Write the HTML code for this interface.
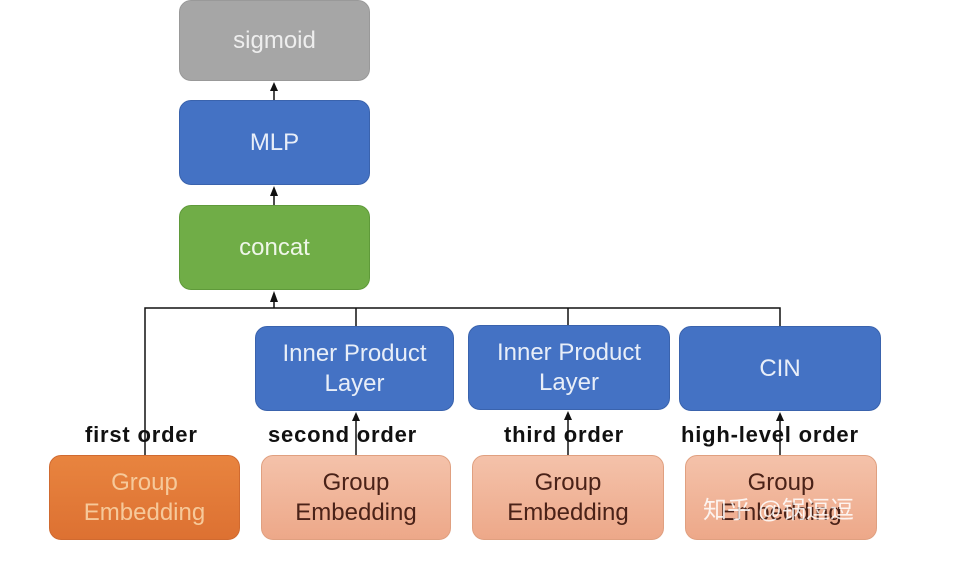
<!DOCTYPE html>
<html><head><meta charset="utf-8"><style>
body{margin:0;width:954px;height:570px;background:#fff;overflow:hidden;position:relative;font-family:"Liberation Sans","Noto Sans CJK SC",sans-serif}
.b{position:absolute;border-radius:12px;display:flex;align-items:center;justify-content:center;text-align:center;font-size:24px;line-height:30px;box-sizing:border-box}
.blue{background:#4472c4;color:#e8eef8;border:1px solid #3a63ad}
.pe{background:linear-gradient(#f4c2aa,#eda889);color:#4a2218;border:1px solid #e0a080}
.l{position:absolute;font-weight:bold;font-size:22px;letter-spacing:0.8px;color:#111;top:422px;white-space:nowrap}
</style></head><body>
<div class="b" style="left:179px;top:0;width:191px;height:81px;background:#a6a6a6;color:#eee;border:1px solid #999">sigmoid</div>
<div class="b blue" style="left:179px;top:100px;width:191px;height:85px">MLP</div>
<div class="b" style="left:179px;top:205px;width:191px;height:85px;background:#70ad47;color:#eef6e8;border:1px solid #5f9a3a">concat</div>
<div class="b blue" style="left:255px;top:326px;width:199px;height:85px">Inner Product<br>Layer</div>
<div class="b blue" style="left:468px;top:325px;width:202px;height:85px">Inner Product<br>Layer</div>
<div class="b blue" style="left:679px;top:326px;width:202px;height:85px">CIN</div>
<div class="b" style="left:49px;top:455px;width:191px;height:85px;background:linear-gradient(#e8843f,#dd7132);color:#f6c99a;border:1px solid #d06a30">Group<br>Embedding</div>
<div class="b pe" style="left:261px;top:455px;width:190px;height:85px">Group<br>Embedding</div>
<div class="b pe" style="left:472px;top:455px;width:192px;height:85px">Group<br>Embedding</div>
<div class="b pe" style="left:685px;top:455px;width:192px;height:85px">Group<br>Embedding</div>
<svg width="954" height="570" style="position:absolute;left:0;top:0" fill="none" stroke="#111" stroke-width="1.5">
<path d="M274 100V86M274 205V190M274 308V295M145 455V308H780V326M356 308V326M568 308V325M356 455V416M568 455V415M780 455V416"/>
<g fill="#111" stroke="none">
<path d="M270 91L274 82L278 91Z"/><path d="M270 196L274 186L278 196Z"/><path d="M270 302L274 291L278 302Z"/>
<path d="M352 421L356 412L360 421Z"/><path d="M564 420L568 411L572 420Z"/><path d="M776 421L780 412L784 421Z"/>
</g></svg>
<div class="l" style="left:85px">first order</div>
<div class="l" style="left:268px">second order</div>
<div class="l" style="left:504px">third order</div>
<div class="l" style="left:681px">high-level order</div>
<div style="position:absolute;left:703px;top:490px;font-size:24px;color:rgba(255,255,255,0.85)">知乎 @锅逗逗</div>
</body></html>
